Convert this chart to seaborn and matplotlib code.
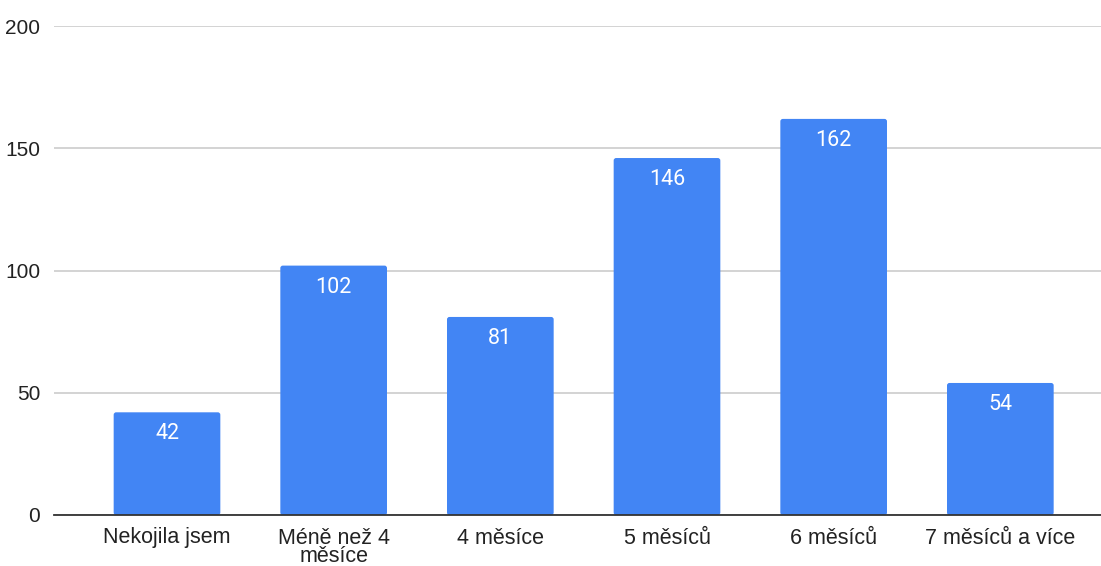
import matplotlib
matplotlib.use("Agg")
import matplotlib.pyplot as plt
import seaborn as sns
import pandas as pd
from matplotlib.patches import FancyBboxPatch

categories = ["Nekojila jsem", "Méně než 4\nměsíce", "4 měsíce",
              "5 měsíců", "6 měsíců", "7 měsíců a více"]
values = [42, 102, 81, 146, 162, 54]
y_ticks = [0, 50, 100, 150, 200]

bar_color = "#4285F4"
df = pd.DataFrame({"kategorie": categories, "pocet": values})

sns.set_theme(style="white")
plt.rcParams["font.family"] = ["Liberation Sans", "DejaVu Sans"]

fig = plt.figure(figsize=(11.01, 5.66), dpi=100)
ax = fig.add_axes([54 / 1101, 1 - 515 / 566, (1101 - 54) / 1101, (515 - 26) / 566])

sns.barplot(data=df, x="kategorie", y="pocet", color=bar_color, width=0.64,
            saturation=1, ax=ax, zorder=3)

# swap the plain rectangles for ones with slightly rounded corners
for patch in list(ax.patches):
    x, y = patch.get_x(), patch.get_y()
    w, h = patch.get_width(), patch.get_height()
    patch.set_visible(False)
    ax.add_patch(FancyBboxPatch((x, y), w, h,
                                boxstyle="round,pad=0,rounding_size=0.015",
                                mutation_aspect=68,
                                facecolor=bar_color, edgecolor="none", zorder=3))

for i, v in enumerate(values):
    ax.annotate(str(v), xy=(i, v), xytext=(0, -8), textcoords="offset points",
                ha="center", va="top", color="white", fontsize=15.5,
                family=["Roboto", "DejaVu Sans"], zorder=4)

ax.set_xlim(-0.678, 5.604)
ax.set_ylim(0, 200)
ax.set_yticks(y_ticks)
ax.set_xlabel("")
ax.set_ylabel("")
ax.yaxis.grid(True, color="#cccccc", linewidth=1.2, zorder=0)
for s in ["top", "right", "left"]:
    ax.spines[s].set_visible(False)
ax.spines["bottom"].set_color("#333333")
ax.spines["bottom"].set_linewidth(1.3)
ax.spines["bottom"].set_zorder(5)
ax.tick_params(axis="y", length=0, labelsize=15, colors="#222222", pad=10)
ax.tick_params(axis="x", length=0, labelsize=15.5, colors="#222222", pad=9)
for lbl in ax.get_xticklabels():
    lbl.set_linespacing(0.86)

fig.savefig("out.png", dpi=100, facecolor="white")
